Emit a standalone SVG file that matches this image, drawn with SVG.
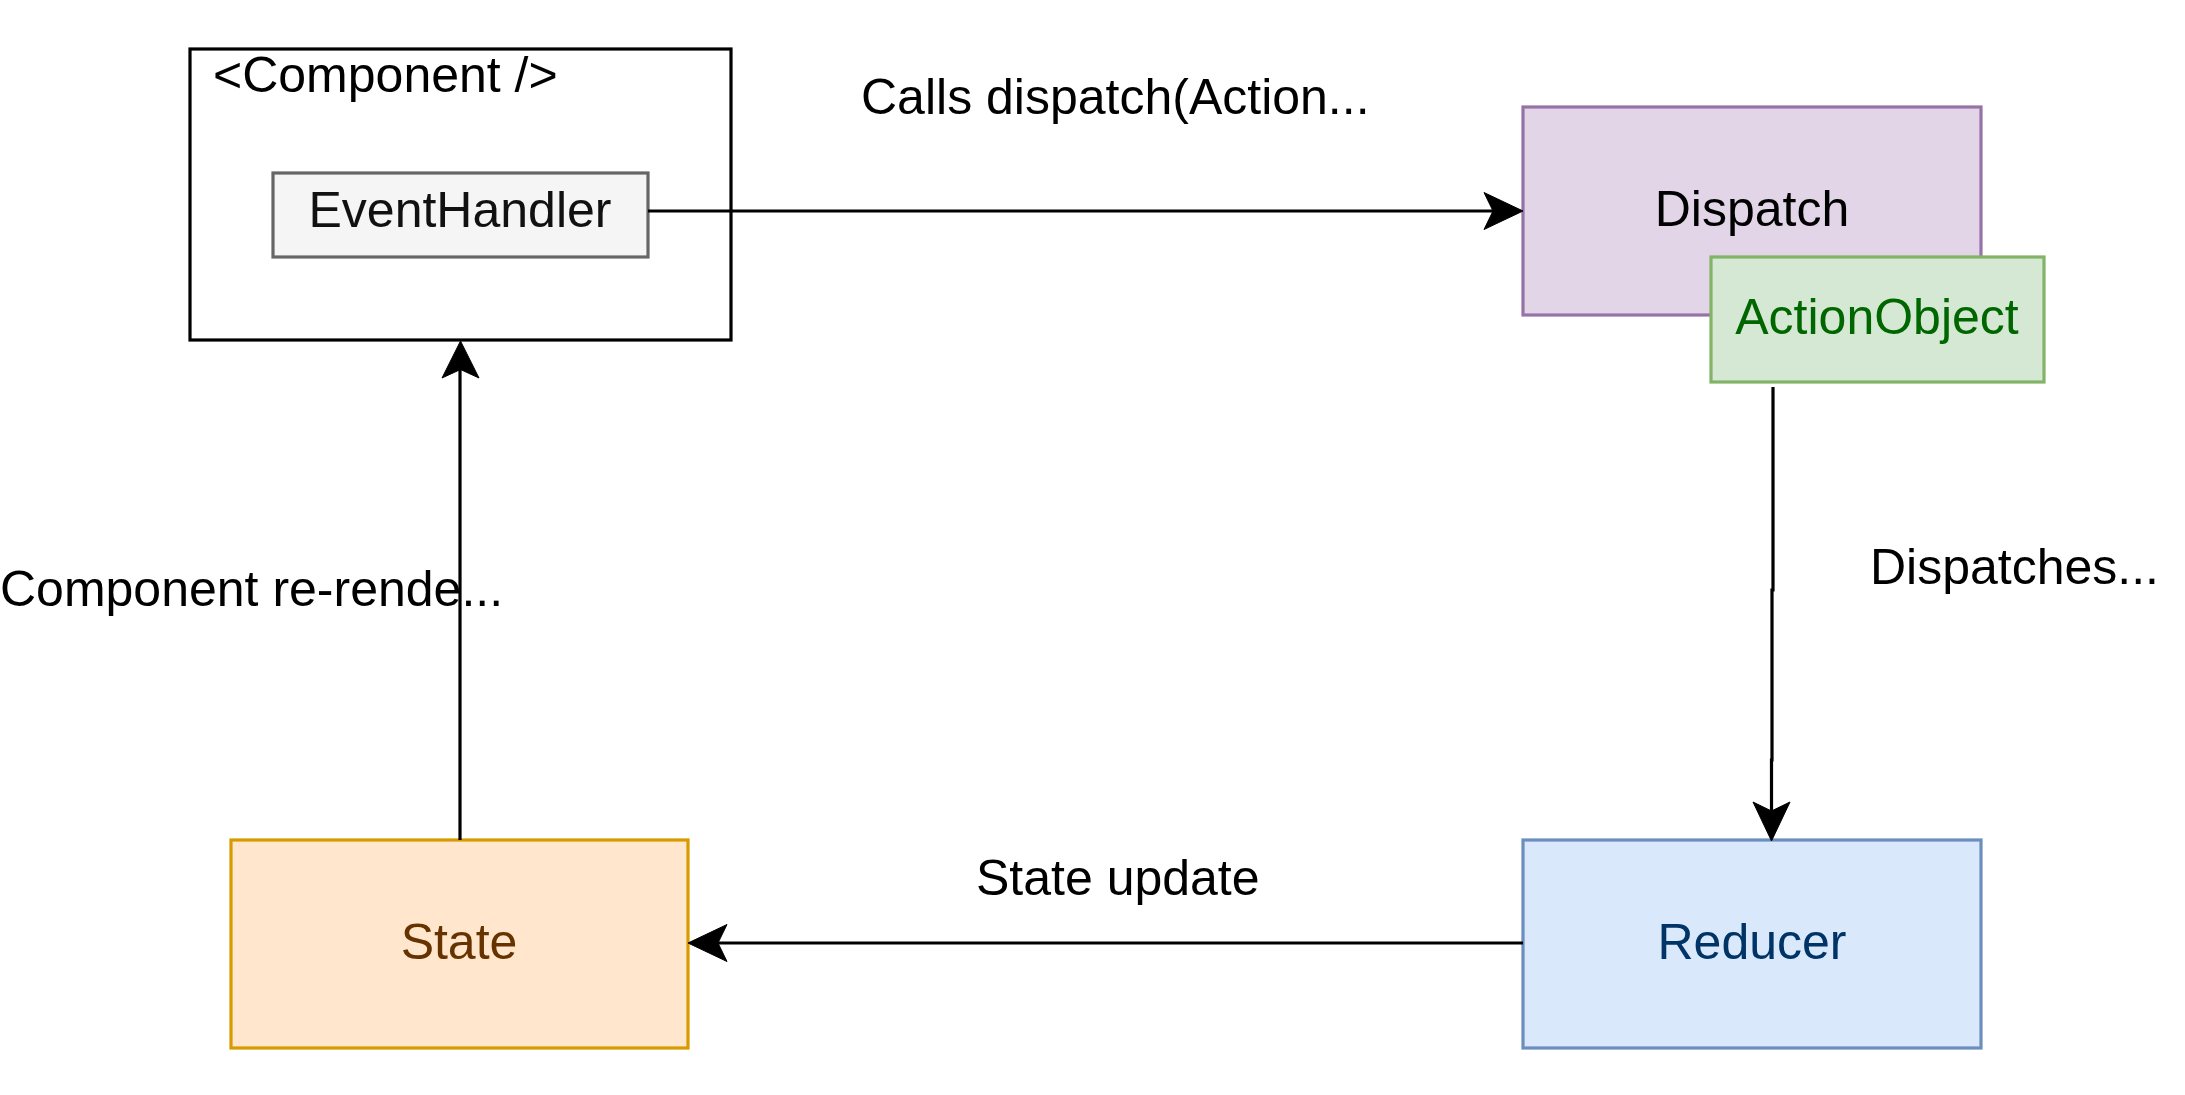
<svg xmlns="http://www.w3.org/2000/svg" width="2185" height="1095" viewBox="0 0 2185 1095">
<defs>
<style>
text{font-family:"Liberation Sans",Arial,Helvetica,sans-serif;font-size:50px;}
.c{text-anchor:middle;}
.box{stroke-width:3.2;}
.edge{fill:none;stroke:#000;stroke-width:3.2;}
.head{fill:#000;stroke:#000;stroke-width:1;stroke-linejoin:miter;}
</style>
</defs>
<rect width="2185" height="1095" fill="#ffffff"/>
<g id="component">
<rect class="box" x="190" y="49" width="541" height="291" fill="#ffffff" stroke="#000000"/>
<text x="213" y="92">&lt;Component /&gt;</text>
</g>
<g id="eventhandler">
<rect class="box" x="273" y="173" width="375" height="84" fill="#f5f5f5" stroke="#666666"/>
<text class="c" x="460" y="227" fill="#111111">EventHandler</text>
</g>
<g id="dispatch">
<rect class="box" x="1523" y="107" width="458" height="208" fill="#e1d5e7" stroke="#9673a6"/>
<text class="c" x="1752" y="226">Dispatch</text>
</g>
<g id="actionobject">
<rect class="box" x="1711" y="257" width="333" height="125" fill="#d5e8d4" stroke="#82b366"/>
<text class="c" x="1877" y="334" fill="#006600">ActionObject</text>
</g>
<g id="reducer">
<rect class="box" x="1523" y="840" width="458" height="208" fill="#dae8fc" stroke="#6c8ebf"/>
<text class="c" x="1752" y="959" fill="#003366">Reducer</text>
</g>
<g id="state">
<rect class="box" x="231" y="840" width="457" height="208" fill="#ffe6cc" stroke="#d79b00"/>
<text class="c" x="459" y="959" fill="#663300">State</text>
</g>
<g id="connectors">
<path class="edge" d="M648,211 H1494"/>
<path class="head" d="M1523,211 L1484,192.5 L1493,211 L1484,229.5 Z"/>
<path class="edge" d="M1773,387 V590 H1772 V760 H1771.5 V812"/>
<path class="head" d="M1771.5,841 L1753,802 L1771.5,811 L1790,802 Z"/>
<path class="edge" d="M1523,943 H717"/>
<path class="head" d="M688,943 L727,924.5 L718,943 L727,961.5 Z"/>
<path class="edge" d="M460,840 V369"/>
<path class="head" d="M460.5,341 L479,378 L460.5,369.5 L442,378 Z"/>
<text x="861" y="114">Calls dispatch(Action...</text>
<text x="1870" y="584">Dispatches...</text>
<text x="976" y="895">State update</text>
<text x="0" y="606">Component re-rende...</text>
</g>
</svg>
